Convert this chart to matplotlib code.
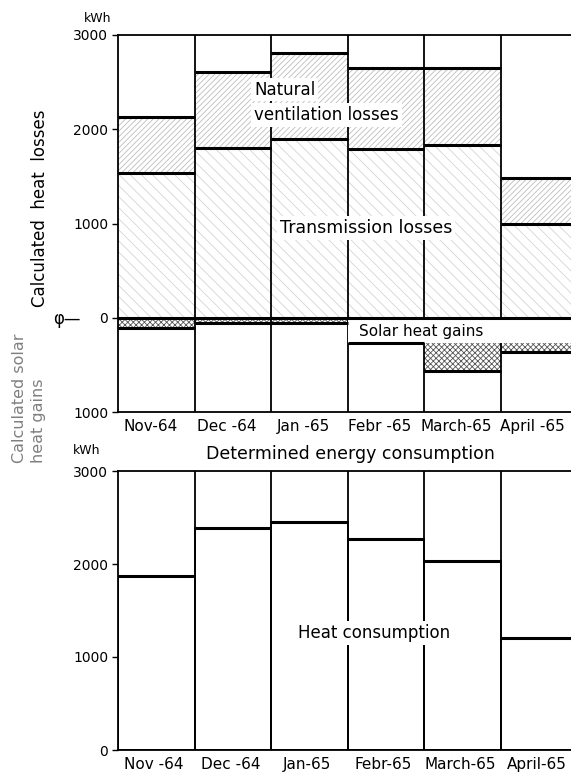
import numpy as np
import matplotlib.pyplot as plt
from matplotlib.patches import Rectangle

plt.rcParams['font.family'] = ['DejaVu Sans']
plt.rcParams['hatch.linewidth'] = 0.6

months_top = ['Nov-64', 'Dec -64', 'Jan -65', 'Febr -65', 'March-65', 'April -65']
months_bot = ['Nov -64', 'Dec -64', 'Jan-65', 'Febr-65', 'March-65', 'April-65']

transmission = [1540, 1800, 1900, 1790, 1835, 1000]
ventilation_top = [2130, 2610, 2810, 2650, 2650, 1480]
solar = [-110, -55, -60, -270, -570, -360]
heat_consumption = [1875, 2390, 2450, 2265, 2035, 1205]

x = np.arange(len(months_top))
xmax = 5.92

fig = plt.figure(figsize=(5.71, 7.73), dpi=100)
ax1 = fig.add_axes([118 / 571, 1 - 412 / 773, 1 - 118 / 571, (412 - 35) / 773])
ax2 = fig.add_axes([118 / 571, 1 - 750 / 773, 1 - 118 / 571, (750 - 471) / 773])

vent_height = np.array(ventilation_top) - np.array(transmission)

# top panel: hatched fills
ax1.bar(x, transmission, width=1, align='edge', color='none', edgecolor='#d4d4d4',
        hatch='\\\\\\', linewidth=0, zorder=1)
ax1.bar(x, vent_height, bottom=transmission, width=1, align='edge', color='none',
        edgecolor='#bdbdbd', hatch='//////', linewidth=0, zorder=1)
ax1.bar(x, solar, width=1, align='edge', color='none', edgecolor='#555555',
        hatch='xxxxxx', linewidth=0, zorder=1)

for b in range(1, len(x)):
    ax1.axvline(b, color='black', lw=1.3, zorder=2)
    ax2.axvline(b, color='black', lw=1.3, zorder=2)

# white label box for solar gains
ax1.add_patch(Rectangle((3, 0), xmax - 3, solar[3], facecolor='white',
                        edgecolor='none', zorder=3))

ax1.hlines(transmission, x, x + 1, color='black', lw=2.2, zorder=4)
ax1.hlines(ventilation_top, x, x + 1, color='black', lw=2.2, zorder=4)
ax1.hlines(solar, x, x + 1, color='black', lw=2.2, zorder=4)
ax1.axhline(0, color='black', lw=2.2, zorder=4)

box = dict(facecolor='white', edgecolor='none', pad=2)
ax1.text(1.78, 2420, 'Natural', fontsize=12, ha='left', va='center', zorder=5, bbox=box)
ax1.text(1.78, 2150, 'ventilation losses', fontsize=12, ha='left', va='center',
         zorder=5, bbox=box)
ax1.text(3.24, 955, 'Transmission losses', fontsize=12.5, ha='center', va='center',
         zorder=5, bbox=box)
ax1.text(3.96, -145, 'Solar heat gains', fontsize=11, ha='center', va='center', zorder=5)

ax1.set_xlim(0, xmax)
ax1.set_ylim(-1000, 3000)
ax1.set_yticks([-1000, 0, 1000, 2000, 3000])
ax1.set_yticklabels(['1000', '0', '1000', '2000', '3000'])
ax1.set_xticks(x + 0.42)
ax1.set_xticklabels(months_top)

# bottom panel
ax2.bar(x, heat_consumption, width=1, align='edge', color='white', edgecolor='black',
        linewidth=1.3, zorder=1)
ax2.hlines(heat_consumption, x, x + 1, color='black', lw=2.2, zorder=4)
ax2.text(3.35, 1255, 'Heat consumption', fontsize=12, ha='center', va='center',
         zorder=5, bbox=box)
ax2.set_xlim(0, xmax)
ax2.set_ylim(0, 3000)
ax2.set_yticks([0, 1000, 2000, 3000])
ax2.set_xticks(x + 0.47)
ax2.set_xticklabels(months_bot)

for ax in (ax1, ax2):
    ax.spines['right'].set_visible(False)
    for s in ('left', 'top', 'bottom'):
        ax.spines[s].set_linewidth(1.3)
    ax.tick_params(axis='y', length=4, width=1, labelsize=10, pad=3)
    ax.tick_params(axis='x', length=0, labelsize=11, pad=5)

fig.text(98 / 571, 1 - 18 / 773, 'kWh', fontsize=9, ha='center', va='center')
fig.text(87 / 571, 1 - 451 / 773, 'kWh', fontsize=9, ha='center', va='center')
fig.text(350 / 571, 1 - 454 / 773, 'Determined energy consumption', fontsize=12.5,
         ha='center', va='center')
fig.text(40 / 571, 1 - 208 / 773, 'Calculated  heat  losses', fontsize=12,
         rotation=90, ha='center', va='center')
fig.text(29 / 571, 1 - 463 / 773, 'Calculated solar\nheat gains', fontsize=11.5,
         rotation=90, ha='center', va='bottom', multialignment='left', color='#808080',
         linespacing=1.25)
fig.text(67 / 571, 1 - 319 / 773, 'φ—', fontsize=12, ha='center', va='center')

fig.savefig('out.png', dpi=100)
